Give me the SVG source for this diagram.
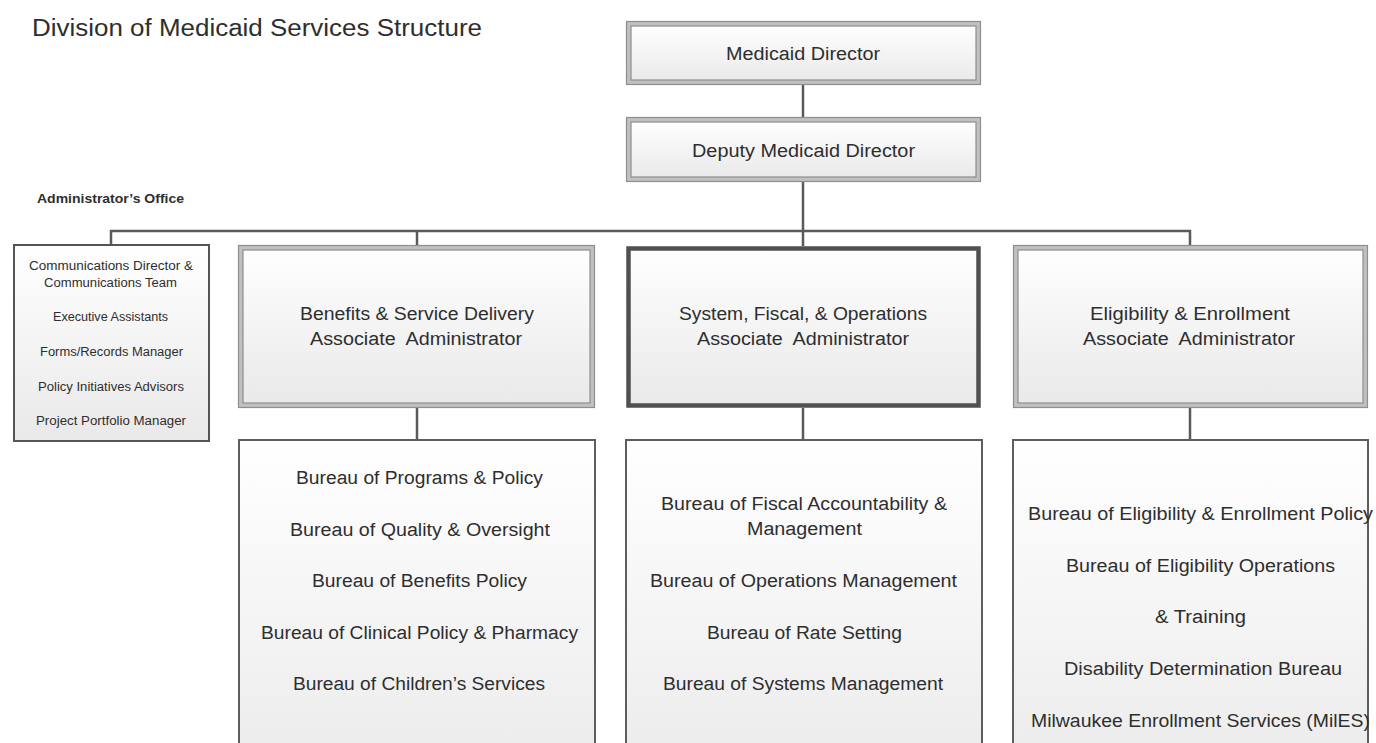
<svg xmlns="http://www.w3.org/2000/svg" width="1376" height="743" viewBox="0 0 1376 743">
  <defs>
    <linearGradient id="boxFill" x1="0" y1="0" x2="0" y2="1">
      <stop offset="0" stop-color="#ffffff"/>
      <stop offset="1" stop-color="#e9e9e9"/>
    </linearGradient>
    <linearGradient id="tallFill" x1="0" y1="0" x2="0" y2="1">
      <stop offset="0" stop-color="#ffffff"/>
      <stop offset="1" stop-color="#ececec"/>
    </linearGradient>
    <style>
      text { font-family: "Liberation Sans", Arial, sans-serif; fill: #2e2e2e; }
      .title { font-size: 23px; }
      .note { font-size: 13px; font-weight: bold; }
      .small { font-size: 12px; text-anchor: middle; }
      .lbl { font-size: 18px; text-anchor: middle; }
      .band { fill: url(#boxFill); stroke: #c0c0c0; stroke-width: 5; }
      .edge { fill: none; stroke: #8e8e8e; stroke-width: 1.2; }
      .heavy { fill: url(#boxFill); stroke: #505050; stroke-width: 4.5; }
      .plain { fill: url(#boxFill); stroke: #555555; stroke-width: 2; }
      .tall { fill: url(#tallFill); stroke: #5e5e5e; stroke-width: 2; }
      .wire { fill: none; stroke: #5a5a5a; stroke-width: 2.5; }
    </style>
  </defs>

  <rect width="1376" height="743" fill="#ffffff"/>

  <text class="title" x="32" y="36" textLength="450" lengthAdjust="spacingAndGlyphs">Division of Medicaid Services Structure</text>
  <text class="note" x="37" y="203" textLength="147" lengthAdjust="spacingAndGlyphs">Administrator’s Office</text>

  <!-- connectors -->
  <g id="connectors">
    <path class="wire" d="M803 85 V118"/>
    <path class="wire" d="M803 182 V246"/>
    <path class="wire" d="M111 245 V231 H1190 V246"/>
    <path class="wire" d="M417 231 V246"/>
    <path class="wire" d="M417 408 V440"/>
    <path class="wire" d="M803 408 V440"/>
    <path class="wire" d="M1190 408 V440"/>
  </g>

  <g id="medicaid-director">
    <rect class="band" x="628.5" y="23.5" width="350" height="59"/>
    <rect class="edge" x="626.5" y="21.5" width="354" height="63"/>
    <rect class="edge" x="631" y="26" width="345" height="54"/>
    <text class="lbl" x="803" y="60" textLength="154" lengthAdjust="spacingAndGlyphs">Medicaid Director</text>
  </g>

  <g id="deputy-director">
    <rect class="band" x="628.5" y="119.5" width="350" height="60"/>
    <rect class="edge" x="626.5" y="117.5" width="354" height="64"/>
    <rect class="edge" x="631" y="122" width="345" height="55"/>
    <text class="lbl" x="803.5" y="157" textLength="223" lengthAdjust="spacingAndGlyphs">Deputy Medicaid Director</text>
  </g>

  <g id="administrators-office">
    <rect class="plain" x="14" y="245" width="195" height="196"/>
    <text class="small" x="111" y="270" textLength="164" lengthAdjust="spacingAndGlyphs">Communications Director &amp;</text>
    <text class="small" x="110.5" y="287" textLength="133" lengthAdjust="spacingAndGlyphs">Communications Team</text>
    <text class="small" x="110.5" y="321" textLength="115" lengthAdjust="spacingAndGlyphs">Executive Assistants</text>
    <text class="small" x="111.5" y="356" textLength="143" lengthAdjust="spacingAndGlyphs">Forms/Records Manager</text>
    <text class="small" x="111" y="391" textLength="146" lengthAdjust="spacingAndGlyphs">Policy Initiatives Advisors</text>
    <text class="small" x="111" y="425" textLength="150" lengthAdjust="spacingAndGlyphs">Project Portfolio Manager</text>
  </g>

  <g id="benefits-admin">
    <rect class="band" x="240.5" y="247.5" width="352" height="158"/>
    <rect class="edge" x="238.5" y="245.5" width="356" height="162"/>
    <rect class="edge" x="243" y="250" width="347" height="153"/>
    <text class="lbl" x="417" y="320" textLength="234" lengthAdjust="spacingAndGlyphs">Benefits &amp; Service Delivery</text>
    <text class="lbl" x="416" y="345" textLength="212" lengthAdjust="spacingAndGlyphs" xml:space="preserve">Associate  Administrator</text>
  </g>

  <g id="systems-admin">
    <rect class="heavy" x="628.5" y="248.5" width="350" height="157"/>
    <text class="lbl" x="803" y="320" textLength="248" lengthAdjust="spacingAndGlyphs">System, Fiscal, &amp; Operations</text>
    <text class="lbl" x="803" y="345" textLength="212" lengthAdjust="spacingAndGlyphs" xml:space="preserve">Associate  Administrator</text>
  </g>

  <g id="eligibility-admin">
    <rect class="band" x="1015.5" y="247.5" width="350" height="158"/>
    <rect class="edge" x="1013.5" y="245.5" width="354" height="162"/>
    <rect class="edge" x="1018" y="250" width="345" height="153"/>
    <text class="lbl" x="1190" y="320" textLength="200" lengthAdjust="spacingAndGlyphs">Eligibility &amp; Enrollment</text>
    <text class="lbl" x="1189" y="345" textLength="212" lengthAdjust="spacingAndGlyphs" xml:space="preserve">Associate  Administrator</text>
  </g>

  <g id="benefits-bureaus">
    <rect class="tall" x="239" y="440" width="356" height="320"/>
    <text class="lbl" x="419.5" y="484" textLength="247" lengthAdjust="spacingAndGlyphs">Bureau of Programs &amp; Policy</text>
    <text class="lbl" x="420" y="535.5" textLength="260" lengthAdjust="spacingAndGlyphs">Bureau of Quality &amp; Oversight</text>
    <text class="lbl" x="419.5" y="587" textLength="215" lengthAdjust="spacingAndGlyphs">Bureau of Benefits Policy</text>
    <text class="lbl" x="419.5" y="638.5" textLength="317" lengthAdjust="spacingAndGlyphs">Bureau of Clinical Policy &amp; Pharmacy</text>
    <text class="lbl" x="419" y="690" textLength="252" lengthAdjust="spacingAndGlyphs">Bureau of Children’s Services</text>
  </g>

  <g id="systems-bureaus">
    <rect class="tall" x="626" y="440" width="356" height="320"/>
    <text class="lbl" x="804" y="510" textLength="286" lengthAdjust="spacingAndGlyphs">Bureau of Fiscal Accountability &amp;</text>
    <text class="lbl" x="804.5" y="535" textLength="115" lengthAdjust="spacingAndGlyphs">Management</text>
    <text class="lbl" x="803.5" y="587" textLength="307" lengthAdjust="spacingAndGlyphs">Bureau of Operations Management</text>
    <text class="lbl" x="804.5" y="639" textLength="195" lengthAdjust="spacingAndGlyphs">Bureau of Rate Setting</text>
    <text class="lbl" x="803" y="690" textLength="280" lengthAdjust="spacingAndGlyphs">Bureau of Systems Management</text>
  </g>

  <g id="eligibility-bureaus">
    <rect class="tall" x="1013" y="440" width="355" height="320"/>
    <text class="lbl" x="1200.5" y="520" textLength="345" lengthAdjust="spacingAndGlyphs">Bureau of Eligibility &amp; Enrollment Policy</text>
    <text class="lbl" x="1200.5" y="572" textLength="269" lengthAdjust="spacingAndGlyphs">Bureau of Eligibility Operations</text>
    <text class="lbl" x="1200.5" y="623" textLength="91" lengthAdjust="spacingAndGlyphs">&amp; Training</text>
    <text class="lbl" x="1203" y="675" textLength="278" lengthAdjust="spacingAndGlyphs">Disability Determination Bureau</text>
    <text class="lbl" x="1200.5" y="727" textLength="339" lengthAdjust="spacingAndGlyphs">Milwaukee Enrollment Services (MilES)</text>
  </g>
</svg>
